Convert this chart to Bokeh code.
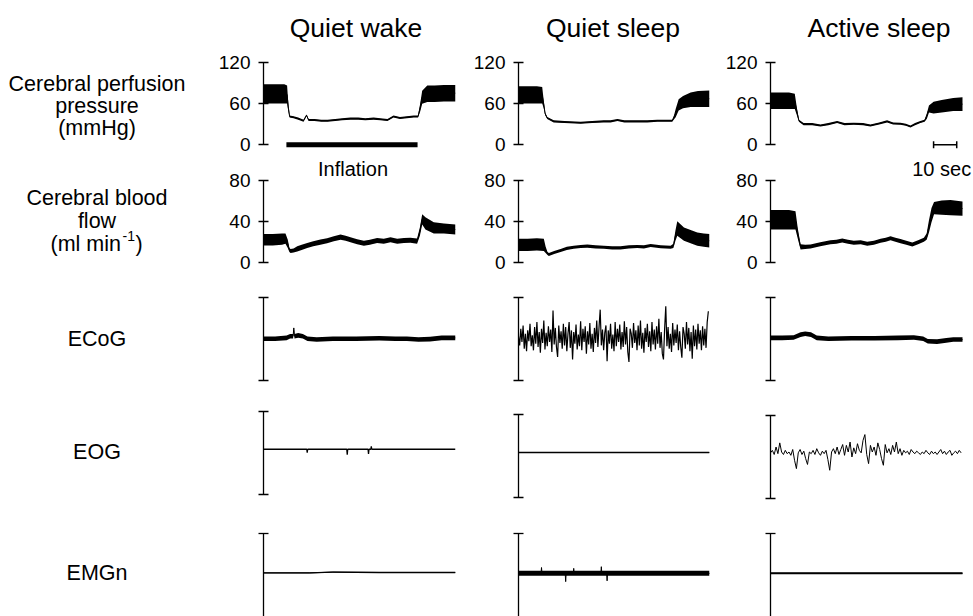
import numpy as np
from bokeh.plotting import figure
from bokeh.layouts import column, row
from bokeh.models import Range1d, FixedTicker
from bokeh.core.properties import value
from bokeh.embed import file_html
from bokeh.resources import INLINE

FONT = "Liberation Sans"

# ------------------------------------------------------------------ data
titles = ["Quiet wake", "Quiet sleep", "Active sleep"]
row_labels = [["Cerebral perfusion", "pressure", "(mmHg)"],
              ["Cerebral blood", "flow"],
              ["ECoG"], ["EOG"], ["EMGn"]]
cbf_unit = ["(ml min", "-1", ")"]
cpp_ticks = [0, 60, 120]
cbf_ticks = [0, 40, 80]

# time (s), mean level and half-width of the pulsatile envelope
cpp_qw_t = [0, 3, 6, 9, 10.2, 10.7, 11.3, 13, 15, 17.3, 18.6, 19.5, 22, 25, 27.7, 31, 34, 37.6, 41, 44, 47.6, 50.5, 53.6, 56.2, 59, 62, 64.9, 66.8, 67.8, 68.6, 70.8, 74, 78, 83]
cpp_qw_m = [74, 74, 74, 74, 73, 55, 41, 40, 38, 35, 43, 36, 36, 35, 35, 36, 37, 38, 38, 37, 38, 37, 36, 41, 39, 40, 41, 41, 55, 69, 74, 74, 75, 75]
cpp_qw_h = [14, 14, 14, 14, 13, 6, 1.5, 1.5, 1.5, 1.5, 1.0, 1.5, 1.5, 1.5, 1.5, 1.5, 1.5, 1.5, 1.5, 1.5, 1.5, 1.5, 1.5, 1.5, 1.5, 1.5, 1.5, 1.5, 6, 9.5, 12, 12, 12, 12]

cpp_qs_t = [0, 4, 8, 10.3, 10.9, 11.6, 12.5, 15.3, 20, 27, 32, 37, 40, 43, 46, 51.6, 56, 60.3, 64, 66.8, 67.6, 68.3, 69.6, 71.5, 74.8, 78, 83]
cpp_qs_m = [72.5, 72.5, 72.5, 72, 60, 45, 39, 34, 33, 32, 33, 34, 34, 36, 34, 34, 34, 35, 35, 35, 40, 46, 58, 62, 65.5, 66.5, 67]
cpp_qs_h = [12.5, 12.5, 12.5, 12, 6, 2, 1.5, 1.5, 1.5, 1.5, 1.5, 1.5, 1.5, 1.5, 1.5, 1.5, 1.5, 1.5, 1.5, 1.5, 3, 6, 8, 9, 10.5, 11.5, 12]

cpp_as_t = [0, 4, 8, 10.5, 11.3, 12.3, 14.3, 18, 21.6, 25, 28.8, 32, 36, 40, 43.2, 47, 50.4, 53, 56.2, 58.5, 60.5, 62.5, 64.8, 66.6, 67.6, 68.5, 70.5, 74, 79, 83]
cpp_as_m = [64, 64, 64, 63, 50, 35, 30, 30, 28, 30, 33, 30, 30.5, 30, 28, 31, 34, 31, 30.5, 29, 26.5, 30, 33, 35, 42, 52, 54, 56, 58.5, 59]
cpp_as_h = [12, 12, 12, 11, 6, 1.5, 1.5, 1.5, 1.5, 1.5, 1.5, 1.5, 1.5, 1.5, 1.5, 1.5, 1.5, 1.5, 1.5, 1.5, 1.5, 1.5, 1.5, 1.5, 4, 5, 8.5, 9, 9.5, 10]

cbf_qw_t = [0, 4, 8, 9.5, 10.5, 11.2, 11.7, 13, 14.6, 16.5, 18.9, 21.5, 24.6, 27.5, 30.4, 33.3, 35.5, 37.6, 40.5, 43.4, 46, 49.1, 52, 54.9, 57.8, 60.7, 63.5, 66.4, 67.6, 68.6, 70.0, 73.6, 78, 83]
cbf_qw_m = [22, 22, 22.5, 23, 18, 12, 11, 11.5, 13, 14.5, 16.3, 18, 19.6, 21, 22.9, 24.5, 23.5, 21.9, 20, 18.6, 19.5, 21.2, 20.5, 21.9, 20.5, 21.2, 21.5, 20.6, 30, 42, 38, 33.5, 33, 32]
cbf_qw_h = [5.7, 5.7, 5.5, 5, 4, 2, 2, 2, 2.5, 2.5, 2.5, 2.5, 2.5, 2.5, 2.5, 2.5, 2.5, 2.5, 2.5, 2.5, 2.5, 2.5, 2.5, 2.5, 2.5, 2.5, 2.5, 2.5, 4, 5, 6, 5.5, 5, 5]

cbf_qs_t = [0, 4, 8, 11, 11.8, 12.6, 13.2, 15.5, 18.3, 21, 24, 27, 29.9, 33.5, 37.1, 40.7, 44.3, 48, 51.6, 54.5, 57.4, 61.8, 66.1, 67.3, 68.2, 69, 71.9, 74.8, 77.7, 80.5, 83]
cbf_qs_m = [17, 17, 17.5, 17, 12, 8.5, 7.5, 9.5, 11.5, 13.5, 14.7, 15.3, 15.7, 15, 14.7, 14, 14, 15, 15.4, 15, 16.3, 15.2, 14.7, 16, 26, 33, 27.5, 25, 22.5, 21.5, 21]
cbf_qs_h = [6, 6, 6, 6, 3, 1.5, 1.5, 1.5, 1.5, 1.5, 1.5, 1.5, 1.5, 1.5, 1.5, 1.5, 1.5, 1.5, 1.5, 1.5, 1.5, 1.5, 1.5, 2, 5, 7, 6.5, 6.5, 6.5, 6.5, 6.5]

cbf_as_t = [0, 4, 8, 10.8, 11.8, 13, 15, 17.3, 21.5, 25.9, 28.5, 31, 33.5, 36, 39, 41.8, 44.7, 47.6, 49.8, 51.9, 54, 56.2, 58.7, 61.3, 63.8, 66.3, 67.5, 68.5, 69.6, 70.7, 74, 77.8, 83]
cbf_as_m = [41.5, 41.5, 41.5, 41, 28, 15, 15, 15.4, 17.5, 19.6, 20, 21.2, 20, 19, 19.5, 18, 19, 21, 22, 23.5, 22, 20.6, 19, 17.3, 19.5, 22, 25, 35, 46, 53, 53.5, 53.5, 52.5]
cbf_as_h = [9.5, 9.5, 9.5, 9, 5, 2.5, 2, 2, 2, 2, 2, 2, 2, 2, 2, 2, 2, 2, 2, 2, 2, 2, 2, 2, 2, 2, 3, 6, 7, 6, 7, 7.5, 7]

# ECoG (arbitrary units, axis spans -50..50)
ecog_qw_t = [0, 5, 10, 11.5, 12.8, 13.1, 13.4, 15, 17, 19, 23, 30, 40, 50, 57, 62, 67, 72, 77, 83]
ecog_qw_m = [0, 0, 1, 3, 3, 13, 3, 4, 3, 0, -1, 0, 0, 0.5, 0, 0, -1, -0.5, 1, 1]
ecog_qw_h = [2.8, 2.8, 2.8, 2.8, 2.8, 0.5, 2.8, 2.8, 2.8, 2.8, 2.8, 2.8, 2.8, 2.8, 2.8, 2.8, 2.8, 2.8, 2.8, 2.8]

ecog_qs_dt = 0.5
ecog_qs_v = [
    3, -8, 12, -4, 16, -12, 6, -15, 10, -3,
    18, -9, 4, -14, 14, -6, 20, -10, 8, -17,
    12, -5, 22, -13, 7, -9, 15, -4, 11, -16,
    34, -7, 13, -10, -22, 16, -5, 9, -12, 18,
    -8, 14, -15, 6, 20, -11, 10, -25, 8, -6,
    17, -13, 5, -9, 21, -14, 12, -4, 15, -18,
    9, -7, 19, -12, 6, -16, 13, -5, 22, -10,
    14, 35, -8, 11, -14, 7, 16, -27, 10, -6,
    18, -12, 5, -15, 20, -9, 12, -4, 17, -13,
    8, -10, 21, -7, 14, -16, -28, 12, 6, -11,
    19, -5, 10, -14, 16, -8, 22, -12, 7, -17,
    13, -4, 18, -10, 9, -15, 20, -7, 11, -13,
    15, -6, 24, -11, 8, -18, -25, 12, 39, -9,
    14, -12, 6, -16, 19, -8, 11, -5, 17, -14,
    9, -10, -23, 14, 6, -12, 20, -7, 13, -15,
    8, -24, 16, -9, 11, -13, 18, -6, 10, -14,
    15, -8, 12, -11, 20, 33]

ecog_as_t = [0, 5, 10, 13, 15, 17.5, 20, 25, 35, 45, 55, 62, 66, 68, 72, 76, 79, 83]
ecog_as_m = [1, 1, 1.5, 5, 6, 5, 1, 0, 0.5, 0.5, 1, 1.5, 0, -3, -3.5, -2, -1, -1]
ecog_as_h = [2.8, 2.8, 2.8, 2.8, 2.8, 2.8, 2.8, 2.8, 2.8, 2.8, 2.8, 2.8, 2.8, 2.8, 2.8, 2.8, 2.8, 2.8]

# EOG
eog_qw_t = [0, 18.7, 18.9, 19.1, 36.0, 36.2, 36.4, 45.2, 45.4, 45.6, 46.4, 46.6, 46.8, 83]
eog_qw_v = [4.5, 4.5, 0.5, 4.5, 4.5, -2, 4.5, 4.5, -1, 4.5, 4.5, 8, 4.5, 4.5]

eog_qs_t = [0, 83]
eog_qs_m = [4.8, 4.8]
eog_qs_h = [1.0, 1.0]

eog_as_dt = 0.8
eog_as_v = [
    5, 8, 3, 12, 4, 17, 6, 3, 8, 4,
    6, 2, 9, -4, -14, 5, 9, 3, 7, -2,
    -9, 6, 4, 8, 3, 10, 5, 2, 7, 4,
    8, -3, -16, 6, 10, 4, 12, 3, 9, 15,
    2, 14, 6, 18, 0, 11, 4, 16, 8, 5,
    20, 27, 3, -8, 14, 6, 12, 2, 17, 9,
    -2, -10, 15, 5, 10, 3, 14, 6, 18, 4,
    10, 2, 8, 5, 7, 3, 9, 6, 4, 7,
    5, 3, 6, 4, 8, 5, 3, 7, 4, 6,
    3, 6, 9, 4, 7, 3, 6, 8, 2, 5,
    7, 4, 8, 5]

# EMG
emg_qw_t = [0, 20, 30, 50, 70, 83]
emg_qw_m = [2.5, 2.5, 3.5, 3, 3, 3]
emg_qw_h = [0.8, 0.8, 0.8, 0.8, 0.8, 0.8]

emg_qs_band_t = [0, 83]
emg_qs_band_m = [2, 2]
emg_qs_band_h = [3.0, 3.0]
emg_qs_t = [0, 9.8, 10, 10.2, 20.3, 20.5, 20.7, 23.8, 24, 24.2, 35.8, 36, 36.2, 38.3, 38.5, 38.7, 83]
emg_qs_v = [2, 2, 9, 2, 2, -8, 2, 2, 8, 2, 2, 10, 2, 2, -7, 2, 2]

emg_as_t = [0, 83]
emg_as_m = [2, 2]
emg_as_h = [1.2, 1.2]

inflation_t = [9.9, 66.6]
scalebar_t = [70.5, 80.5]

# ------------------------------------------------------------------ layout
col_specs = [(60, 192, 3), (60, 191, 3), (58, 203, 0)]   # left border, frame width, right border
px_per_s = [192 / 83, 191 / 83, 192 / 83]
row_specs = [
    dict(h=108, yr=[(-17.0, 139.9)] * 3, ticks=cpp_ticks, bounds=(0, 120), labels=True),
    dict(h=126, yr=[(-19.9, 103.5)] * 3, ticks=cbf_ticks, bounds=(0, 80), labels=True),
    dict(h=113, yr=[(-68.4, 67.7)] * 3, ticks=[-50, 50], bounds=(-50, 50), labels=False),
    dict(h=115, yr=[(-69.3, 69.3), (-65.1, 73.5), (-64.5, 74.1)], ticks=[-50, 50], bounds=(-50, 50), labels=False),
    dict(h=106, yr=[(-50.0, 77.7)] * 3, ticks=[50], bounds=(-50, 50), labels=False),
]


def panel(ri, ci):
    rs = row_specs[ri]
    lb, fw, rb = col_specs[ci]
    p = figure(width=lb + fw + rb, height=rs["h"],
               x_range=Range1d(0, fw / px_per_s[ci]), y_range=Range1d(*rs["yr"][ci]),
               toolbar_location=None, output_backend="svg",
               min_border_left=lb, min_border_right=rb, min_border_top=0, min_border_bottom=0)
    p.xaxis.visible = False
    p.grid.visible = False
    p.outline_line_color = None
    ax = p.yaxis[0]
    ax.ticker = FixedTicker(ticks=rs["ticks"])
    ax.bounds = rs["bounds"]
    ax.axis_line_color = "black"
    ax.axis_line_width = 1.3
    ax.major_tick_line_color = "black"
    ax.major_tick_line_width = 1.3
    ax.major_tick_in = 5
    ax.major_tick_out = 5
    ax.minor_tick_line_color = None
    ax.major_label_standoff = 8
    ax.major_label_text_font = FONT
    ax.major_label_text_font_size = "19px"
    ax.major_label_text_color = "black"
    if not rs["labels"]:
        ax.major_label_overrides = {t: "" for t in rs["ticks"]}
    return p


def band(p, t, m, h, lw=1.0):
    t = np.asarray(t, float); m = np.asarray(m, float); h = np.asarray(h, float)
    assert len(t) == len(m) == len(h)
    p.varea(x=t, y1=m - h, y2=m + h, fill_color="black")
    p.line(x=t, y=m, line_color="black", line_width=lw)


def trace(p, t, v, lw=1.0):
    assert len(t) == len(v)
    p.line(x=list(t), y=list(v), line_color="black", line_width=lw)


P = [[panel(r, c) for c in range(3)] for r in range(5)]

band(P[0][0], cpp_qw_t, cpp_qw_m, cpp_qw_h)
band(P[0][1], cpp_qs_t, cpp_qs_m, cpp_qs_h)
band(P[0][2], cpp_as_t, cpp_as_m, cpp_as_h)
band(P[1][0], cbf_qw_t, cbf_qw_m, cbf_qw_h)
band(P[1][1], cbf_qs_t, cbf_qs_m, cbf_qs_h)
band(P[1][2], cbf_as_t, cbf_as_m, cbf_as_h)
band(P[2][0], ecog_qw_t, ecog_qw_m, ecog_qw_h)
trace(P[2][1], np.arange(len(ecog_qs_v)) * ecog_qs_dt, ecog_qs_v, lw=1.2)
band(P[2][2], ecog_as_t, ecog_as_m, ecog_as_h)
trace(P[3][0], eog_qw_t, eog_qw_v, lw=1.3)
band(P[3][1], eog_qs_t, eog_qs_m, eog_qs_h)
trace(P[3][2], np.arange(len(eog_as_v)) * eog_as_dt, eog_as_v, lw=1.0)
band(P[4][0], emg_qw_t, emg_qw_m, emg_qw_h)
band(P[4][1], emg_qs_band_t, emg_qs_band_m, emg_qs_band_h)
trace(P[4][1], emg_qs_t, emg_qs_v, lw=1.0)
band(P[4][2], emg_as_t, emg_as_m, emg_as_h)

# inflation bar (CPP panel) and its label (drawn in the CBF panel below it)
P[0][0].line(x=inflation_t, y=[0, 0], line_color="black", line_width=5)
P[1][0].text(x=[38.7], y=[91.6], text=["Inflation"], text_font=value(FONT),
             text_font_size=value("20px"), text_align="center", text_baseline="middle", text_color="black")

# time scale bar (CPP panel) and its label (CBF panel)
P[0][2].line(x=scalebar_t, y=[0, 0], line_color="black", line_width=1.5)
P[0][2].segment(x0=scalebar_t, y0=[-5, -5], x1=scalebar_t, y1=[5, 5], line_color="black", line_width=1.5)
P[1][2].text(x=[74.0], y=[91.6], text=["10 sec"], text_font=value(FONT),
             text_font_size=value("20px"), text_align="center", text_baseline="middle", text_color="black")

# header with column titles (page pixel coordinates)
hdr = figure(width=973, height=48, x_range=Range1d(0, 973), y_range=Range1d(48, 0),
             toolbar_location=None, output_backend="svg", min_border=0)
hdr.axis.visible = False
hdr.grid.visible = False
hdr.outline_line_color = None
hdr.text(x=[355.5, 612.5, 878.5], y=[27, 27, 27], text=titles, text_font=value(FONT),
         text_font_size=value("26.5px"), text_align="center", text_baseline="middle", text_color="black")

# row labels (page pixel coordinates)
lab = figure(width=203, height=568, x_range=Range1d(0, 203), y_range=Range1d(616, 48),
             toolbar_location=None, output_backend="svg", min_border=0)
lab.axis.visible = False
lab.grid.visible = False
lab.outline_line_color = None
lab_x, lab_y, lab_t = [], [], []
line_pos = [[83, 105, 127], [197, 220], [338], [451], [572]]
for lines, ys in zip(row_labels, line_pos):
    for s, y in zip(lines, ys):
        lab_x.append(96.5); lab_y.append(y); lab_t.append(s)
lab.text(x=lab_x, y=lab_y, text=lab_t, text_font=value(FONT), text_font_size=value("21.5px"),
         text_align="center", text_baseline="middle", text_color="black")
# "(ml min-1)" with superscript
lab.text(x=[50], y=[243], text=[cbf_unit[0]], text_font=value(FONT), text_font_size=value("21.5px"),
         text_align="left", text_baseline="middle", text_color="black")
lab.text(x=[122], y=[235], text=[cbf_unit[1]], text_font=value(FONT), text_font_size=value("14px"),
         text_align="left", text_baseline="middle", text_color="black")
lab.text(x=[135], y=[243], text=[cbf_unit[2]], text_font=value(FONT), text_font_size=value("21.5px"),
         text_align="left", text_baseline="middle", text_color="black")

grid = column(*[row(*P[r], spacing=0) for r in range(5)], spacing=0)
layout = column(hdr, row(lab, grid, spacing=0), spacing=0)

open("out.html", "w").write(file_html(layout, INLINE))
